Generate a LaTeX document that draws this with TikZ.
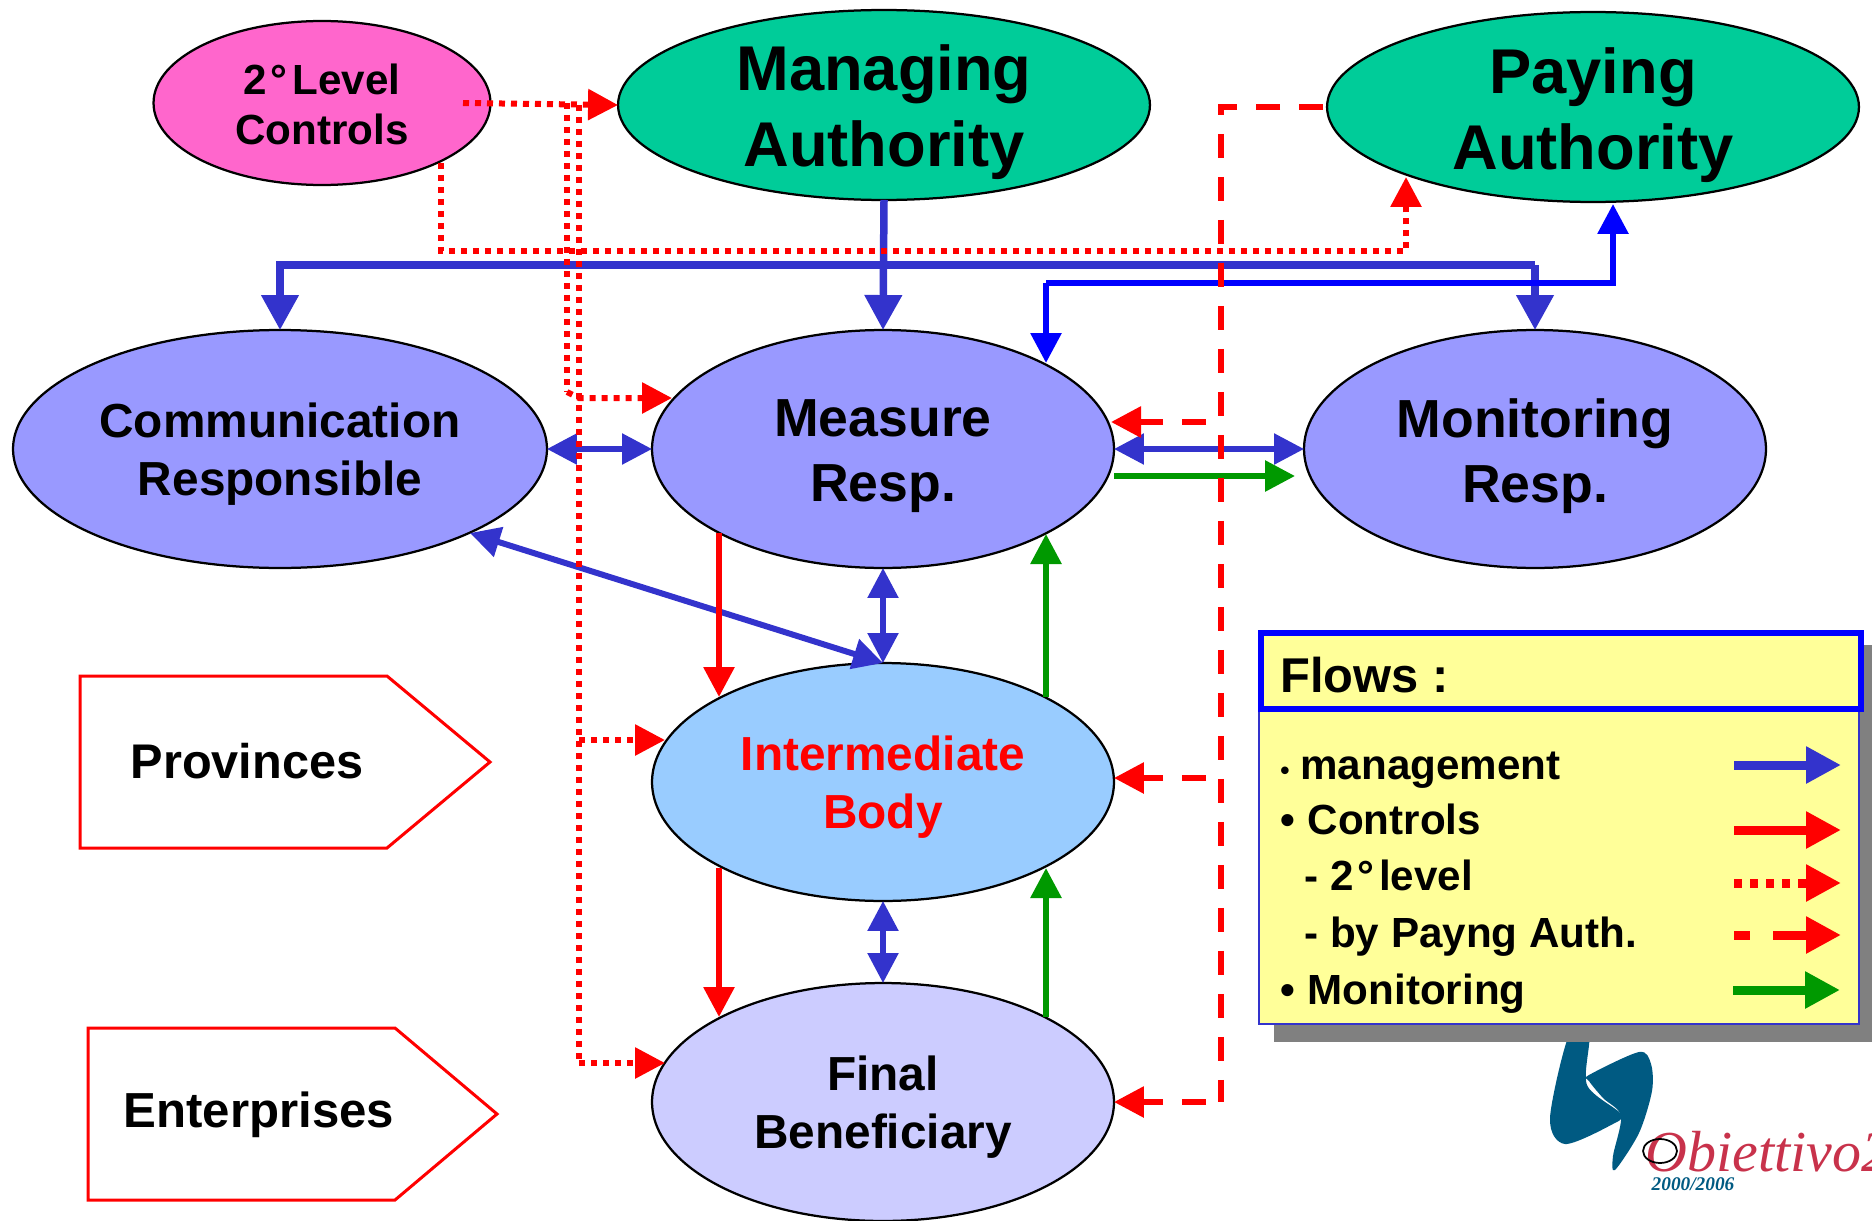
\documentclass[tikz,border=0pt]{standalone}
\usepackage{fontspec}
\setmainfont{Liberation Sans}
\newfontfamily\logofont{Liberation Serif}
\usepackage{xcolor}
\usetikzlibrary{shapes.geometric,arrows.meta,calc}
\definecolor{flowblue}{HTML}{3333CC}
\definecolor{flowgreen}{HTML}{009900}
\definecolor{greenell}{HTML}{00CC99}
\definecolor{pinkell}{HTML}{FF66CC}
\definecolor{violetell}{HTML}{9999FF}
\definecolor{skyell}{HTML}{99CCFF}
\definecolor{paleell}{HTML}{CCCCFF}
\definecolor{legyellow}{HTML}{FFFF99}
\definecolor{logoblue}{HTML}{005A82}
\definecolor{logored}{HTML}{C8324B}
\tikzset{
  ell/.style={draw=black,line width=0.045cm,ellipse,inner sep=0pt,outer sep=0pt},
  fontA/.style={align=center,font=\fontsize{36}{43.3}\selectfont\bfseries},
  fontB/.style={align=center,font=\fontsize{30.5}{36.7}\selectfont\bfseries},
  fontC/.style={align=center,font=\fontsize{27.2}{33}\selectfont\bfseries},
  fontD/.style={align=center,font=\fontsize{24}{28.5}\selectfont\bfseries},
  tip/.style={-{Triangle[length=0.6cm,width=0.6cm]}},
  tips/.style={{Triangle[length=0.6cm,width=0.6cm]}-{Triangle[length=0.6cm,width=0.6cm]}},
  bigtip/.style={-{Triangle[length=0.7cm,width=0.72cm]}},
  legtip/.style={-{Triangle[length=0.7cm,width=0.7cm]}},
  mgmt/.style={draw=flowblue,line width=0.15cm},
  mgmtthin/.style={draw=flowblue,line width=0.11cm},
  mgmtpure/.style={draw=blue,line width=0.12cm},
  ctrl/.style={draw=red,line width=0.12cm},
  mon/.style={draw=flowgreen,line width=0.12cm},
  lev/.style={draw=red,line width=0.12cm,dash pattern=on 0.12cm off 0.12cm},
  pay/.style={draw=red,line width=0.12cm,dash pattern=on 0.48cm off 0.38cm},
  legw/.style={line width=0.18cm},
  tag/.style={draw=red,line width=0.06cm,fill=white},
  legitem/.style={font=\fontsize{24}{28.5}\selectfont\bfseries,anchor=base west,inner sep=0pt},
}

\begin{document}
\begin{tikzpicture}[x=0.02cm,y=-0.02cm]
    \useasboundingbox (0,0) rectangle (1872,1220);
    % Authorities
    \node[ell,fill=pinkell,minimum width=6.74cm,minimum height=3.28cm] (nlevel) at (322,103) {};
    \node[fontD] (xlevel) at (322,104) {2\kern2pt°\kern3pt Level\\Controls};
    \node[ell,fill=greenell,minimum width=10.64cm,minimum height=3.8cm] (nmanag) at (884,105) {};
    \node[fontA] (xmanag) at (884,112) {Managing\\Authority};
    \node[ell,fill=greenell,minimum width=10.64cm,minimum height=3.8cm] (npay) at (1593,107) {};
    \node[fontA] (xpay) at (1593,115) {Paying\\Authority};
    % Responsibles
    \node[ell,fill=violetell,minimum width=10.68cm,minimum height=4.76cm] (ncomm) at (280,449) {};
    \node[fontC] (xcomm) at (280,454) {Communication\\Responsible};
    \node[ell,fill=violetell,minimum width=9.24cm,minimum height=4.76cm] (nmeas) at (883,449) {};
    \node[fontB] (xmeas) at (883,456) {Measure\\Resp.};
    \node[ell,fill=violetell,minimum width=9.24cm,minimum height=4.76cm] (nmon) at (1535,449) {};
    \node[fontB] (xmon) at (1535,456) {Monitoring\\Resp.};
    % Bodies
    \node[ell,fill=skyell,minimum width=9.24cm,minimum height=4.76cm] (nint) at (883,782) {};
    \node[fontC,text=red] (xint) at (883,787) {Intermediate\\Body};
    \node[ell,fill=paleell,minimum width=9.24cm,minimum height=4.76cm] (nfin) at (883,1102) {};
    \node[fontC] (xfin) at (883,1107) {Final\\Beneficiary};
    % Tags on the left
    \draw[tag] (80,676) -- (387,676) -- (490,762) -- (387,848) -- (80,848) -- cycle;
    \node[font=\fontsize{27.7}{33}\selectfont\bfseries] (nprov) at (247,761) {Provinces};
    \draw[tag] (88,1028) -- (395,1028) -- (497,1114) -- (395,1200) -- (88,1200) -- cycle;
    \node[font=\fontsize{28}{33}\selectfont\bfseries] (nent) at (259,1115) {Enterprises};

    % Logo
    \fill[logoblue] plot[smooth cycle,tension=0.5] coordinates {(1569,1035) (1550,1118) (1565,1144) (1611,1125) (1621,1114) (1587,1085) (1589,1035)};
    \fill[logoblue] plot[smooth cycle,tension=0.5] coordinates {(1589,1075) (1639,1052) (1651,1064) (1652,1091) (1639,1133) (1615,1170) (1613,1156) (1621,1116) (1603,1098) (1589,1081)};
    \begin{scope}
        \clip (1600,1100) rectangle (1872,1220);
        \node[anchor=base west,inner sep=0pt,text=logored,font=\logofont\fontsize{33}{40}\selectfont\itshape] (nobj) at (1645,1171) {Obiettivo2};
    \end{scope}
    \node[text=logoblue,inner sep=0pt,font=\logofont\fontsize{11}{13}\selectfont\bfseries\itshape] (nyear) at (1693,1184) {2000/2006};
    \node[draw=black,line width=0.035cm,ellipse,minimum width=0.68cm,minimum height=0.48cm,inner sep=0pt] (nring) at (1660,1151) {};

    % Management
    \coordinate (jcomm) at (ncomm.north |- 0,265);
    \coordinate (jmon) at (nmon.north |- 0,265);
    \draw[mgmt,bigtip] (nmanag.south) -- (nmeas.north);
    \draw[mgmt,bigtip] (jmon) -- (nmon.north);
    \draw[mgmt,bigtip] (jmon) -- (jcomm) -- (ncomm.north);
    \draw[mgmtthin,tips] (ncomm.east) -- (nmeas.west);
    \draw[mgmtthin,tips] (nmeas.east) -- (nmon.west);
    \draw[mgmtthin,tips] (nmeas.south) -- (nint.north);
    \draw[mgmtthin,tips] (nint.south) -- (nfin.north);
    \coordinate (jcommb) at (470,533);
    \draw[mgmt,line width=0.12cm,tips] (jcommb) -- (nint.north);
    % Paying and measure
    \coordinate (jmeasb) at (1046,283);
    \coordinate (jpayb) at (1613,283);
    \coordinate (tmeasb) at (1046,363);
    \coordinate (tpayb) at (1613,204);
    \draw[mgmtpure,tip] (jmeasb) -- (tmeasb);
    \draw[mgmtpure,tip] (jmeasb) -- (jpayb) -- (tpayb);

    % Controls
    \coordinate (smeas) at (719,533);
    \coordinate (tint) at (719,697);
    \coordinate (sint) at (719,868);
    \coordinate (tfin) at (719,1017);
    \draw[ctrl,tip] (smeas) -- (tint);
    \draw[ctrl,tip] (sint) -- (tfin);

    % Monitoring
    \coordinate (gmeasa) at (1114,476);
    \coordinate (gmona) at (1295,476);
    \coordinate (gint) at (1046,697);
    \coordinate (gmeas) at (1046,534);
    \coordinate (gfin) at (1046,1017);
    \coordinate (gintb) at (1046,868);
    \draw[mon,tip] (gmeasa) -- (gmona);
    \draw[mon,tip] (gint) -- (gmeas);
    \draw[mon,tip] (gfin) -- (gintb);

    % 2 level controls
    \coordinate (llev) at (463,103);
    \coordinate (jaa) at (567,103);
    \coordinate (jab) at (567,392);
    \coordinate (jac) at (579,105);
    \coordinate (tmeas) at (672,398);
    \coordinate (jad) at (579,740);
    \coordinate (tinta) at (665,740);
    \coordinate (jae) at (579,1063);
    \coordinate (tfina) at (665,1063);
    \coordinate (lsta) at (441,163);
    \coordinate (lstb) at (441,251);
    \coordinate (lstc) at (1406,251);
    \coordinate (tpaya) at (1406,177);
    \draw[lev,tip] (llev) -- (nmanag.west);
    \draw[lev] (jaa) -- (jab);
    \draw[lev,tip] (jab) -- ++(12,6) -- (tmeas);
    \draw[lev] (jac) -- (jae);
    \draw[lev,tip] (jad) -- (tinta);
    \draw[lev,tip] (jae) -- (tfina);
    \draw[lev,tip] (lsta) -- (lstb) -- (lstc) -- (tpaya);

    % By paying authority
    \coordinate (spay) at (1323,107);
    \coordinate (jpaya) at (1221,107);
    \coordinate (jpayc) at (1221,1102);
    \coordinate (jpayd) at (1221,422);
    \coordinate (tpaym) at (1111,422);
    \coordinate (jpaye) at (1221,778);
    \draw[pay] (spay) -- (jpaya) -- (jpayc);
    \draw[pay,tip,dash phase=0.56cm] (jpayc) -- (nfin.east);
    \draw[pay,tip,dash phase=0.56cm] (jpayd) -- (tpaym);
    \draw[pay,tip,dash phase=0.56cm] (jpaye) -- (nint.east |- jpaye);

    % Flows box
    \fill[gray] (1274,645) rectangle (1872,1042);
    \node[draw=flowblue,line width=0.04cm,fill=legyellow,minimum width=12cm,minimum height=7.28cm,inner sep=0pt] (nbody) at (1559,842) {};
    \node[draw=blue,line width=0.12cm,fill=legyellow,minimum width=12cm,minimum height=1.52cm,inner sep=0pt] (nflows) at (1561,671) {};
    \node[anchor=base west,inner sep=0pt,font=\fontsize{27.8}{33}\selectfont\bfseries] (xflows) at (1280,692) {Flows :};
    \node[legitem] (nbulla) at (1280,779) {\fontsize{15}{18}\selectfont•};
    \node[legitem] (nitema) at (1300,779) {management};
    \node[legitem] (nitemb) at (1280,834) {•\kern0.3em Controls};
    \node[legitem] (nitemc) at (1304,890) {- 2\kern2pt°\kern3pt level};
    \node[legitem] (nitemd) at (1304,947) {- by Payng Auth.};
    \node[legitem] (niteme) at (1280,1004) {•\kern0.3em Monitoring};
    \coordinate (laa) at (1734,765);
    \coordinate (lab) at (1841,765);
    \coordinate (lba) at (1734,830);
    \coordinate (lbb) at (1841,830);
    \coordinate (lca) at (1734,883);
    \coordinate (lcb) at (1841,883);
    \coordinate (lda) at (1734,935);
    \coordinate (ldb) at (1841,935);
    \coordinate (lea) at (1733,990);
    \coordinate (leb) at (1840,990);
    \draw[mgmt,legw,legtip] (laa) -- (lab);
    \draw[ctrl,legw,legtip] (lba) -- (lbb);
    \draw[lev,legw,legtip,dash pattern=on 0.15cm off 0.17cm] (lca) -- (lcb);
    \draw[pay,legw,legtip,dash pattern=on 0.32cm off 0.46cm on 1.2cm off 0cm] (lda) -- (ldb);
    \draw[mon,legw,legtip] (lea) -- (leb);
\end{tikzpicture}
\end{document}
